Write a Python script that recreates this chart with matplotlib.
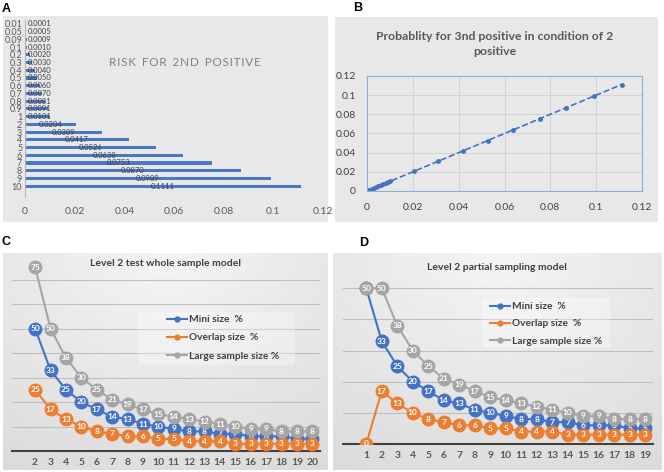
import numpy as np
import matplotlib.pyplot as plt
from matplotlib.patches import Rectangle
from matplotlib.lines import Line2D

plt.rcParams['font.family'] = ['Lato', 'DejaVu Sans']

# ---- data ----
risk_cats = ['0.01', '0.05', '0.09', '0.1', '0.2', '0.3', '0.4', '0.5', '0.6', '0.7', '0.8',
             '0.9', '1', '2', '3', '4', '5', '6', '7', '8', '9', '10']
risk_vals = [0.0001, 0.0005, 0.0009, 0.0010, 0.0020, 0.0030, 0.0040, 0.0050, 0.0060, 0.0070,
             0.0081, 0.0091, 0.0101, 0.0204, 0.0309, 0.0417, 0.0526, 0.0638, 0.0753, 0.0870,
             0.0989, 0.1111]
risk_ticks = [0, 0.02, 0.04, 0.06, 0.08, 0.1, 0.12]
risk_tick_labels = ['0', '0.02', '0.04', '0.06', '0.08', '0.1', '0.12']

third_x = risk_vals
third_y = [0.0001, 0.0005, 0.0009, 0.0010, 0.0020, 0.0030, 0.0040, 0.0050, 0.0060, 0.0070,
           0.0081, 0.0091, 0.0101, 0.0204, 0.0309, 0.0417, 0.0526, 0.0638, 0.0753, 0.0870,
           0.0989, 0.1111]

c_x = list(range(2, 21))
c_mini = [50, 33, 25, 20, 17, 14, 13, 11, 10, 9, 8, 8, 7, 7, 6, 6, 6, 5, 5]
c_overlap = [25, 17, 13, 10, 8, 7, 6, 6, 5, 5, 4, 4, 4, 3, 3, 3, 3, 3, 3]
c_large = [75, 50, 38, 30, 25, 21, 19, 17, 15, 14, 13, 12, 11, 10, 9, 9, 8, 8, 8]

d_x = list(range(1, 20))
d_mini = [50, 33, 25, 20, 17, 14, 13, 11, 10, 9, 8, 8, 7, 7, 6, 6, 6, 5, 5]
d_overlap = [0, 17, 13, 10, 8, 7, 6, 6, 5, 5, 4, 4, 4, 3, 3, 3, 3, 3, 3]
d_large = [50, 50, 38, 30, 25, 21, 19, 17, 15, 14, 13, 12, 11, 10, 9, 9, 8, 8, 8]

series_names = ['Mini size  %', 'Overlap size  %', 'Large sample size %']
series_colors = ['#4472C4', '#ED7D31', '#A5A5A5']

W, H = 664, 472
fig = plt.figure(figsize=(W / 100, H / 100), dpi=100)


def px_axes(x0, y0, x1, y1):
    return fig.add_axes([x0 / W, 1 - y1 / H, (x1 - x0) / W, (y1 - y0) / H])


def px_rect(x0, y0, x1, y1, **kw):
    r = Rectangle((x0 / W, 1 - y1 / H), (x1 - x0) / W, (y1 - y0) / H,
                  transform=fig.transFigure, **kw)
    fig.add_artist(r)
    return r


def gradient_bg(x0, y0, x1, y1):
    bg = px_axes(x0, y0, x1, y1)
    yy, xx = np.mgrid[0:1:120j, 0:1:160j]
    g = 0.955 - 0.09 * np.sqrt(((xx - 0.5) / 0.9) ** 2 + (yy - 0.05) ** 2)
    bg.imshow(g, cmap='gray', vmin=0, vmax=1, aspect='auto', extent=(0, 1, 1, 0))
    bg.axis('off')


def panel_letter(x, y, s):
    fig.text(x / W, 1 - y / H, s, fontsize=9, fontweight='bold',
             family=['Liberation Sans', 'DejaVu Sans'], ha='center', va='center')


# ---- panel A ----
px_rect(3, 16, 328, 222, facecolor='#e8e8e8', edgecolor='none', zorder=0)
axA = px_axes(25, 20, 323, 197)
axA.set_facecolor('none')
pos = np.arange(len(risk_vals))
axA.barh(pos, risk_vals, height=0.4, color='#4a78c8')
for i, v in enumerate(risk_vals):
    axA.text(max(v / 2, 0.006), i, '%.4f' % v, fontsize=5.5, color='#404040',
             ha='center', va='center')
axA.set_xlim(0, 0.12)
axA.set_ylim(22.4, -0.5)
axA.set_yticks(pos)
axA.set_yticklabels(risk_cats)
axA.set_xticks(risk_ticks)
axA.set_xticklabels(risk_tick_labels)
axA.tick_params(axis='y', length=0, pad=2, labelsize=6.5, labelcolor='#595959')
axA.tick_params(axis='x', length=0, pad=7, labelsize=7.5, labelcolor='#595959')
for s in ['top', 'right', 'bottom']:
    axA.spines[s].set_visible(False)
axA.spines['left'].set_color('#b4b4b4')
fig.text(185 / W, 1 - 62 / H, 'R I S K  F O R  2 N D  P O S I T I V E'.replace('  ', '\u2002').replace(' ', '\u200a'),
         fontsize=8.5, color='#808080', ha='center', va='center')
panel_letter(6, 9, 'A')

# ---- panel B ----
px_rect(335, 17, 658, 222, facecolor='#e8e8e8', edgecolor='none', zorder=0)
axB = px_axes(367, 76, 642, 191)
axB.set_facecolor('none')
axB.plot(third_x, third_y, linestyle='--', color='#4472C4', marker='o', ms=2.5, lw=1.2)
axB.set_xlim(0, 0.12)
axB.set_ylim(0, 0.12)
axB.set_xticks(risk_ticks)
axB.set_xticklabels(risk_tick_labels)
axB.set_yticks(risk_ticks)
axB.set_yticklabels(risk_tick_labels)
axB.grid(True, color='#d0d0d0', lw=0.6)
axB.set_axisbelow(True)
axB.tick_params(axis='x', length=0, pad=9, labelsize=7.5, labelcolor='#404040')
axB.tick_params(axis='y', length=0, pad=8, labelsize=7.5, labelcolor='#404040')
for s in axB.spines.values():
    s.set_color('#8faadc')
    s.set_linewidth(0.8)
fig.text(495 / W, 1 - 44 / H, 'Probablity for 3nd positive in condition of 2\npositive',
         fontsize=8.8, fontweight='bold', color='#595959', ha='center', va='center',
         linespacing=1.5)
panel_letter(358, 8, 'B')


# ---- panels C and D ----
def line_panel(box, ax_box, xs, series, xlim, ylim, grid_ticks, title, title_xy,
               legend_box, legend_xy, legend_space):
    gradient_bg(*box)
    ax = px_axes(*ax_box)
    ax.set_facecolor('none')
    for k, (vals, col) in enumerate(zip(series, series_colors)):
        z = 3 + 2 * k
        ax.plot(xs, vals, color=col, lw=1.5, marker='o', ms=9, mec=col, mfc=col, zorder=z)
        for x, v in zip(xs, vals):
            ax.text(x, v, str(v), color='white', fontsize=6, fontweight='bold',
                    ha='center', va='center', zorder=z + 1)
    ax.set_xlim(*xlim)
    ax.set_ylim(*ylim)
    ax.set_xticks(xs)
    ax.set_xticklabels([str(x) for x in xs])
    ax.set_yticks(grid_ticks)
    ax.yaxis.grid(True, color='#bfbfbf', lw=0.8)
    ax.set_axisbelow(True)
    ax.tick_params(axis='y', left=False, labelleft=False)
    ax.tick_params(axis='x', length=0, pad=5, labelsize=7.5, labelcolor='#595959')
    for lab in ax.get_xticklabels():
        lab.set_fontweight('bold')
    for s in ['top', 'right', 'left']:
        ax.spines[s].set_visible(False)
    ax.spines['bottom'].set_color('#404040')
    ax.spines['bottom'].set_linewidth(1.5)
    ax.spines['bottom'].set_zorder(2)
    fig.text(title_xy[0] / W, 1 - title_xy[1] / H, title, fontsize=7.5, fontweight='bold',
             color='#404040', ha='center', va='center')
    px_rect(*legend_box, facecolor='white', alpha=0.3, edgecolor='none', zorder=1)
    handles = [Line2D([], [], color=c, lw=1.5, marker='o', ms=3.5) for c in series_colors]
    fig.legend(handles, series_names, loc='upper left',
               bbox_to_anchor=(legend_xy[0] / W, 1 - legend_xy[1] / H),
               bbox_transform=fig.transFigure, frameon=False, borderpad=0, borderaxespad=0,
               handlelength=2.0, handletextpad=0.2, labelspacing=legend_space,
               prop={'size': 7.3, 'weight': 'bold'}, labelcolor='#404040')
    return ax


line_panel((3, 253, 328, 470), (12, 255, 320, 451), c_x, [c_mini, c_overlap, c_large],
           (0.5, 20.5), (0, 80), list(range(10, 80, 10)),
           'Level 2 test whole sample model', (165, 264),
           (138, 312, 295, 365), (167, 315), 0.9)
panel_letter(6, 242, 'C')

line_panel((333, 253, 662, 470), (343, 257, 653, 444), d_x, [d_mini, d_overlap, d_large],
           (-0.5, 19.5), (0, 60), list(range(10, 60, 10)),
           'Level 2 partial sampling model', (497, 268),
           (482, 298, 610, 348), (490, 302), 0.8)
panel_letter(364, 243, 'D')

fig.savefig('out.png', dpi=100)
